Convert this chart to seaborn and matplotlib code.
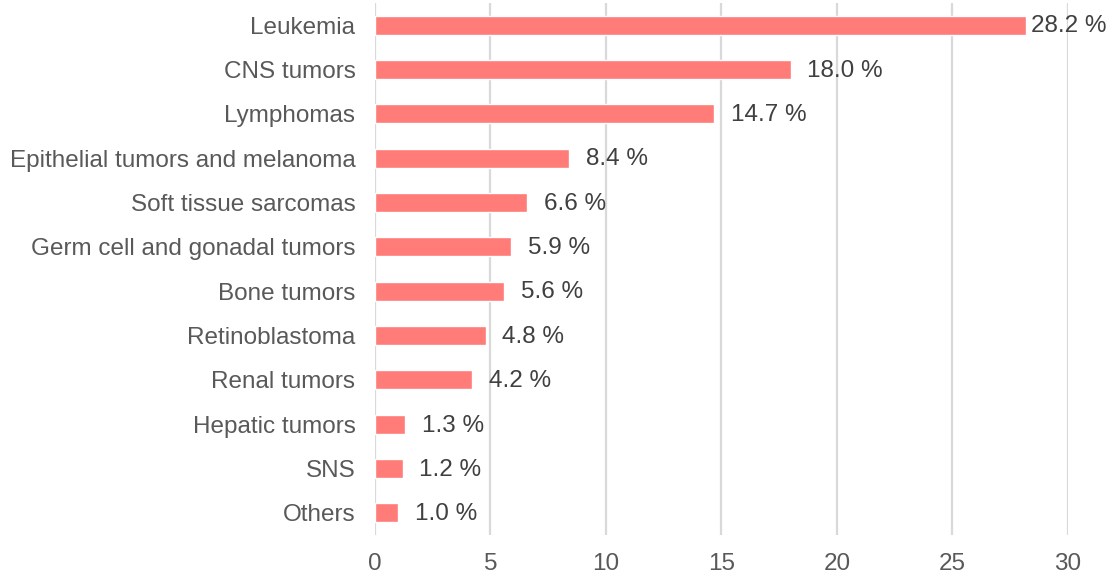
import matplotlib
matplotlib.use("Agg")
import matplotlib.pyplot as plt
import seaborn as sns
import pandas as pd

categorias = [
    "Leukemia", "CNS tumors", "Lymphomas", "Epithelial tumors and melanoma",
    "Soft tissue sarcomas", "Germ cell and gonadal tumors", "Bone tumors",
    "Retinoblastoma", "Renal tumors", "Hepatic tumors", "SNS", "Others",
]
valores = [28.2, 18.0, 14.7, 8.4, 6.6, 5.9, 5.6, 4.8, 4.2, 1.3, 1.2, 1.0]

df = pd.DataFrame({"tipo": categorias, "pct": valores})

sns.set_style("white")
plt.rcParams["font.family"] = ["Liberation Sans", "DejaVu Sans"]

fig = plt.figure(figsize=(11.09, 5.74), dpi=100)
ax = fig.add_axes([0.338, 0.068, 0.625, 0.927])

sns.barplot(data=df, y="tipo", x="pct", color="#FF7C78", saturation=1,
            width=0.43, orient="h", ax=ax)

# etiquetas de datos (la barra más larga queda pegada, no cabe)
for i, v in enumerate(valores):
    dx = 3.5 if v == max(valores) else 12
    ax.annotate(f"{v:.1f} %", xy=(v, i), xytext=(dx, -1), textcoords="offset points",
                ha="left", va="center", fontsize=17.5, color="#404040")

ax.set_xlim(0, 30)
ax.set_xticks(range(0, 31, 5))
ax.grid(axis="x", color="#D9D9D9", linewidth=1.6)
ax.set_axisbelow(True)
for s in ax.spines.values():
    s.set_visible(False)
ax.tick_params(axis="both", length=0, labelsize=17.5, labelcolor="#595959")
ax.tick_params(axis="y", pad=14)
ax.tick_params(axis="x", pad=13)
ax.set_xlabel("")
ax.set_ylabel("")

plt.savefig("out.png", dpi=100)
